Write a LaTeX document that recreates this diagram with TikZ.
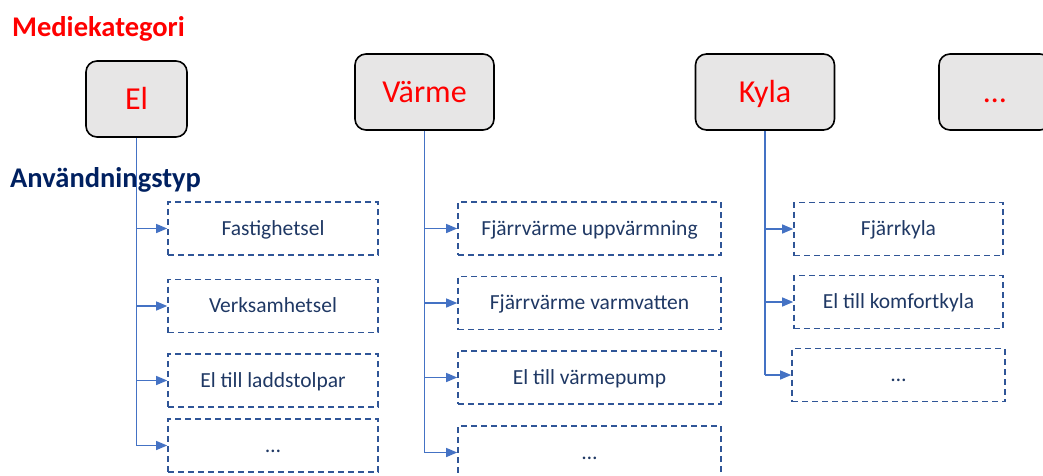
\documentclass[tikz,border=0pt]{standalone}
\usepackage{fontspec}
\setmainfont{Carlito}
\usetikzlibrary{arrows.meta}
\definecolor{connblue}{HTML}{4472C4}
\definecolor{dashblue}{HTML}{2F5597}
\definecolor{navytext}{HTML}{1F3864}
\definecolor{headnavy}{HTML}{002060}
\definecolor{catfill}{HTML}{E7E6E6}
\definecolor{catred}{HTML}{FF0000}
\begin{document}
\begin{tikzpicture}[x=1pt,y=-1pt,
  catbox/.style={draw=black, line width=1.6pt, fill=catfill, rounded corners=11pt,
    minimum width=139pt, minimum height=76pt, inner sep=0pt,
    text=catred, font=\fontsize{32}{36}\selectfont, text height=20.5pt, text depth=0pt},
  usebox/.style={draw=dashblue, line width=1.6pt, dash pattern=on 6pt off 4pt,
    minimum width=210pt, minimum height=53pt, inner sep=0pt,
    text=navytext, font=\fontsize{21.5}{26}\selectfont, text height=13.8pt, text depth=0pt},
  heading/.style={anchor=base west, inner sep=0pt, font=\bfseries\fontsize{28.5}{32}\selectfont},
  conn/.style={draw=connblue, line width=1.2pt},
  arr/.style={conn, -{Triangle[length=11pt,width=9pt]}}
]
\useasboundingbox (0,0) rectangle (1043,475);
\clip (0,0) rectangle (1043,475);

\node[heading, text=catred] (hmed) at (12,36) {Mediekategori};

% category boxes
\node[catbox, minimum width=101pt] (el) at (136.5,99) {El};
\node[catbox] (varme) at (424.5,92) {Värme};
\node[catbox] (kyla) at (765,92) {Kyla};
\node[catbox, minimum width=112pt] (more) at (995,92) {…};

% El column
\node[usebox] (e1) at (273,228.5) {Fastighetsel};
\node[usebox] (e2) at (273,306) {Verksamhetsel};
\node[usebox] (e3) at (273,380.5) {El till laddstolpar};
\node[usebox] (e4) at (273,445.5) {…};

% Värme column
\node[usebox, minimum width=263pt] (v1) at (589.5,228.5) {Fjärrvärme uppvärmning};
\node[usebox, minimum width=263pt] (v2) at (589.5,303) {Fjärrvärme varmvatten};
\node[usebox, minimum width=263pt] (v3) at (589.5,377.5) {El till värmepump};
\node[usebox, minimum width=263pt] (v4) at (589.5,452.5) {…};

% Kyla column
\node[usebox, minimum width=209pt] (k1) at (898.5,229) {Fjärrkyla};
\node[usebox, minimum width=209pt] (k2) at (898.5,302) {El till komfortkyla};
\node[usebox, minimum width=213pt] (k3) at (898.5,375) {…};

% connectors
\draw[conn] (el.south) -- (el.south |- e4.west);
\foreach \b in {e1,e2,e3,e4} \draw[arr] (el.south |- \b.west) -- (\b.west);
\draw[conn] (varme.south) -- (varme.south |- v4.west);
\foreach \b in {v1,v2,v3,v4} \draw[arr] (varme.south |- \b.west) -- (\b.west);
\draw[conn] (kyla.south) -- (kyla.south |- k3.west);
\foreach \b in {k1,k2,k3} \draw[arr] (kyla.south |- \b.west) -- (\b.west);

\node[heading, text=headnavy] (hanv) at (10,187) {Användningstyp};
\end{tikzpicture}
\end{document}
